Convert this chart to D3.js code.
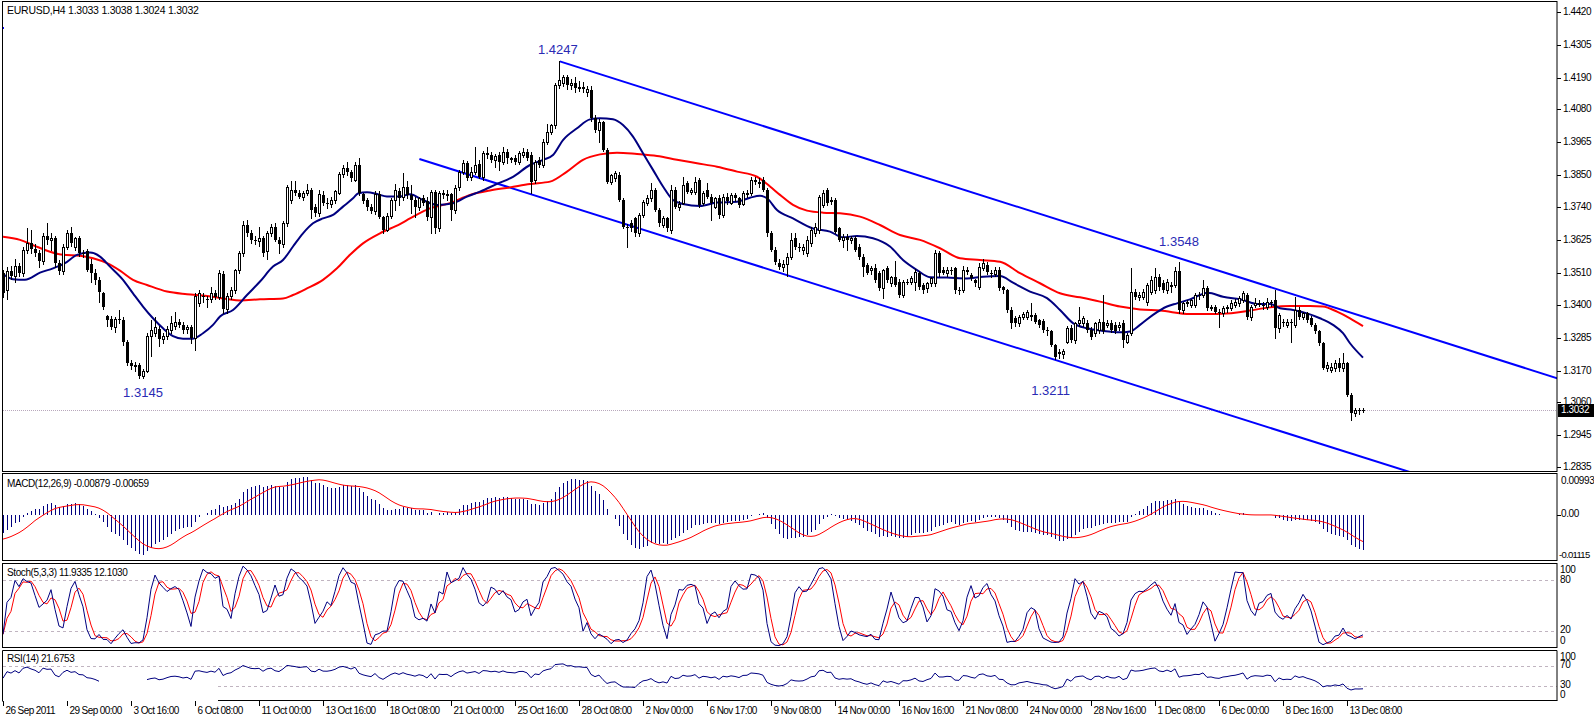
<!DOCTYPE html>
<html><head><meta charset="utf-8">
<script src="https://cdn.jsdelivr.net/npm/d3@7"></script>
<style>
html,body{margin:0;padding:0;background:#fff;}
svg{display:block;}
text{font-family:"Liberation Sans",Arial,sans-serif;}
</style></head><body>
<svg id="c" width="1594" height="718"></svg>
<script>
// ---------------- DATA ----------------
const headerText = "EURUSD,H4  1.3033 1.3038 1.3024 1.3032";
const macdLabel = "MACD(12,26,9) -0.00879 -0.00659";
const stochLabel = "Stoch(5,3,3) 11.9335 12.1030";
const rsiLabel = "RSI(14) 21.6753";
const priceTicks = [1.4420,1.4305,1.4190,1.4080,1.3965,1.3850,1.3740,1.3625,1.3510,1.3400,1.3285,1.3170,1.3060,1.2945,1.2835];
const priceTickLabels = ["1.4420","1.4305","1.4190","1.4080","1.3965","1.3850","1.3740","1.3625","1.3510","1.3400","1.3285","1.3170","1.3060","1.2945","1.2835"];
const currentPrice = 1.3032;
const macdTicks = [0.00993, 0.00, -0.01115];
const macdTickLabels = ["0.00993","0.00","-0.01115"];
const stochLevels = [80, 20];
const stochTickLabels = [[100,"100"],[80,"80"],[20,"20"],[0,"0"]];
const rsiLevels = [70, 30];
const rsiLevelStartBar = [0, 53.75];   // the 30 level is only visible from about x=218
const rsiTickLabels = [[100,"100"],[70,"70"],[30,"30"],[0,"0"]];
const timeLabelBars = [0,16,32,48,64,80,96,112,128,144,160,176,192,208,224,240,256,272,288,304,320,336];
const timeLabels = ["26 Sep 2011","29 Sep 00:00","3 Oct 16:00","6 Oct 08:00","11 Oct 00:00","13 Oct 16:00","18 Oct 08:00","21 Oct 00:00","25 Oct 16:00","28 Oct 08:00","2 Nov 00:00","6 Nov 17:00","9 Nov 08:00","14 Nov 00:00","16 Nov 16:00","21 Nov 08:00","24 Nov 00:00","28 Nov 16:00","1 Dec 08:00","6 Dec 00:00","8 Dec 16:00","13 Dec 08:00"];

// H4 candles, prices x 10000 : [open, high, low, close]
const ohlc = [
[13510,13520,13425,13440],[13450,13530,13420,13515],[13515,13535,13490,13500],[13500,13560,13480,13535],[13535,13545,13500,13510],
[13510,13600,13500,13590],[13590,13665,13580,13615],[13615,13660,13580,13595],[13595,13610,13570,13580],[13580,13590,13530,13550],
[13550,13650,13540,13640],[13640,13685,13610,13625],[13625,13650,13590,13630],[13630,13640,13530,13545],[13545,13555,13505,13515],
[13515,13610,13505,13600],[13600,13660,13595,13650],[13650,13670,13605,13615],[13600,13635,13590,13630],[13630,13640,13570,13580],
[13580,13590,13565,13575],[13585,13595,13515,13520],[13540,13560,13480,13510],[13510,13525,13470,13485],[13485,13495,13410,13445],
[13440,13445,13385,13390],[13360,13365,13325,13345],[13350,13360,13315,13320],[13320,13355,13305,13350],[13350,13380,13335,13345],
[13345,13355,13260,13270],[13270,13275,13190,13195],[13195,13205,13175,13185],[13185,13200,13170,13190],[13190,13195,13145,13150],
[13150,13175,13145,13170],[13170,13300,13165,13290],[13290,13345,13220,13310],[13300,13355,13290,13320],[13315,13325,13255,13280],
[13280,13300,13265,13290],[13290,13325,13280,13315],[13310,13360,13300,13335],[13325,13375,13315,13340],[13340,13350,13320,13330],
[13330,13340,13300,13310],[13315,13330,13300,13320],[13320,13330,13265,13285],[13285,13440,13240,13430],[13405,13450,13395,13440],
[13430,13440,13410,13425],[13420,13430,13390,13415],[13420,13460,13410,13440],[13440,13450,13420,13425],[13425,13520,13420,13510],
[13505,13515,13370,13385],[13385,13440,13370,13430],[13430,13460,13420,13450],[13450,13525,13440,13520],[13520,13585,13510,13578],
[13578,13690,13570,13677],[13677,13695,13640,13650],[13650,13660,13615,13625],[13625,13640,13610,13620],[13620,13670,13605,13630],
[13630,13640,13570,13580],[13585,13655,13560,13648],[13648,13680,13640,13670],[13670,13685,13620,13625],[13625,13635,13580,13610],
[13610,13690,13600,13683],[13683,13815,13675,13810],[13765,13830,13755,13800],[13800,13830,13780,13790],[13790,13800,13770,13775],
[13775,13795,13765,13790],[13790,13820,13780,13800],[13800,13805,13700,13730],[13740,13750,13710,13718],[13718,13800,13710,13785],
[13780,13795,13745,13752],[13752,13770,13735,13750],[13750,13775,13740,13765],[13765,13800,13755,13795],[13790,13860,13785,13855],
[13855,13885,13845,13875],[13875,13895,13850,13860],[13860,13870,13830,13840],[13835,13895,13830,13885],[13885,13910,13780,13790],
[13785,13790,13755,13760],[13765,13770,13730,13740],[13740,13750,13720,13725],[13725,13795,13715,13785],[13785,13795,13700,13705],
[13705,13710,13650,13660],[13660,13720,13655,13710],[13710,13770,13700,13765],[13765,13820,13730,13800],[13795,13805,13745,13770],
[13776,13857,13765,13811],[13811,13830,13770,13780],[13780,13816,13718,13764],[13764,13776,13706,13741],[13741,13775,13730,13770],
[13770,13780,13745,13755],[13760,13776,13695,13706],[13706,13800,13648,13793],[13793,13800,13648,13666],[13666,13795,13655,13787],
[13787,13800,13770,13780],[13780,13800,13765,13785],[13785,13790,13695,13729],[13729,13815,13720,13805],[13811,13870,13800,13863],
[13863,13904,13855,13892],[13892,13900,13835,13842],[13845,13880,13835,13863],[13863,13950,13855,13885],[13890,13905,13840,13845],
[13845,13935,13835,13927],[13927,13950,13910,13921],[13921,13930,13895,13904],[13904,13925,13880,13918],[13921,13930,13870,13898],
[13898,13950,13890,13933],[13933,13940,13892,13909],[13909,13915,13895,13904],[13910,13920,13890,13898],[13898,13935,13890,13927],
[13921,13944,13915,13930],[13930,13940,13905,13909],[13921,13930,13787,13828],[13834,13905,13825,13898],[13904,13915,13880,13886],
[13886,13975,13880,13967],[13967,14030,13960,14002],[14002,14030,13995,14025],[14025,14170,14015,14165],[14165,14247,14155,14182],
[14170,14200,14160,14194],[14194,14200,14150,14165],[14165,14185,14150,14171],[14171,14194,14140,14153],[14153,14178,14145,14159],
[14159,14175,14140,14152],[14140,14160,14125,14150],[14147,14160,14040,14049],[14049,14060,14000,14008],[14008,14045,13967,14037],
[14037,14040,13935,13938],[13938,13945,13825,13828],[13828,13855,13820,13851],[13840,13865,13830,13857],[13851,13860,13760,13764],
[13764,13770,13665,13671],[13671,13680,13602,13666],[13685,13695,13655,13666],[13700,13705,13640,13648],[13648,13720,13640,13712],
[13712,13765,13705,13758],[13753,13780,13745,13770],[13770,13822,13760,13799],[13799,13805,13725,13729],[13729,13735,13675,13683],
[13677,13710,13670,13700],[13700,13705,13655,13666],[13660,13815,13650,13799],[13799,13810,13735,13741],[13741,13760,13730,13750],
[13755,13845,13750,13816],[13822,13830,13790,13793],[13793,13805,13785,13799],[13793,13845,13785,13828],[13834,13840,13740,13747],
[13753,13795,13745,13787],[13800,13825,13770,13776],[13776,13785,13695,13753],[13741,13775,13735,13770],[13770,13780,13700,13712],
[13712,13785,13705,13776],[13776,13790,13750,13760],[13755,13790,13750,13782],[13782,13790,13760,13770],[13770,13775,13740,13747],
[13750,13795,13745,13787],[13787,13800,13775,13790],[13790,13845,13780,13834],[13834,13845,13820,13828],[13828,13840,13810,13820],
[13834,13845,13795,13799],[13799,13805,13640,13648],[13648,13655,13585,13590],[13590,13600,13540,13549],[13544,13560,13525,13532],
[13532,13555,13515,13540],[13540,13580,13500,13567],[13567,13648,13560,13625],[13631,13650,13595,13602],[13602,13615,13585,13596],
[13590,13610,13575,13600],[13578,13640,13570,13625],[13613,13670,13605,13660],[13648,13685,13640,13671],[13660,13780,13650,13776],
[13747,13799,13740,13787],[13800,13805,13745,13753],[13764,13775,13750,13758],[13764,13770,13650,13654],[13665,13670,13620,13625],
[13625,13645,13600,13636],[13636,13645,13590,13625],[13625,13640,13615,13631],[13631,13640,13585,13590],[13602,13610,13560,13567],
[13567,13575,13500,13532],[13538,13545,13505,13509],[13520,13535,13505,13526],[13526,13540,13480,13485],[13509,13515,13450,13456],
[13456,13525,13422,13520],[13526,13535,13480,13485],[13474,13500,13465,13497],[13497,13550,13465,13468],[13480,13490,13425,13433],
[13433,13485,13425,13480],[13480,13490,13470,13478],[13478,13500,13470,13491],[13480,13525,13450,13514],[13509,13515,13455,13462],
[13468,13475,13440,13451],[13456,13480,13445,13474],[13474,13495,13465,13491],[13474,13590,13465,13578],[13578,13585,13500,13509],
[13520,13530,13505,13509],[13509,13530,13500,13520],[13520,13530,13505,13515],[13526,13530,13440,13451],[13451,13460,13435,13447],
[13451,13535,13445,13520],[13520,13530,13505,13514],[13503,13510,13485,13491],[13485,13490,13465,13476],[13462,13545,13455,13532],
[13526,13560,13520,13544],[13538,13548,13505,13514],[13509,13520,13495,13505],[13505,13530,13500,13520],[13520,13530,13450,13456],
[13460,13465,13440,13451],[13451,13455,13375,13381],[13381,13390,13317,13335],[13352,13360,13325,13335],[13335,13365,13325,13358],
[13358,13375,13350,13366],[13358,13380,13350,13375],[13362,13404,13345,13355],[13364,13370,13335,13340],[13346,13350,13320,13329],
[13344,13350,13305,13311],[13311,13320,13295,13306],[13306,13310,13255,13259],[13259,13262,13211,13218],[13236,13245,13215,13226],
[13226,13245,13215,13238],[13270,13325,13265,13317],[13317,13330,13270,13277],[13277,13340,13265,13335],[13335,13393,13325,13346],
[13335,13360,13325,13352],[13335,13345,13305,13311],[13311,13320,13280,13288],[13300,13340,13290,13335],[13311,13350,13300,13340],
[13340,13433,13300,13306],[13330,13345,13320,13335],[13335,13345,13305,13311],[13329,13340,13300,13306],[13320,13340,13310,13329],
[13335,13345,13253,13277],[13271,13300,13265,13294],[13300,13526,13295,13445],[13445,13455,13420,13427],[13427,13445,13415,13433],
[13427,13455,13420,13445],[13410,13475,13400,13468],[13445,13500,13435,13486],[13451,13526,13440,13497],[13497,13505,13450,13460],
[13476,13485,13445,13451],[13451,13490,13440,13480],[13468,13480,13445,13460],[13468,13532,13460,13515],[13515,13548,13370,13381],
[13381,13410,13370,13404],[13404,13415,13395,13408],[13398,13420,13390,13416],[13398,13440,13390,13433],[13433,13445,13420,13429],
[13433,13486,13425,13457],[13457,13465,13380,13387],[13387,13400,13380,13393],[13393,13400,13370,13375],[13375,13385,13323,13369],
[13369,13395,13360,13387],[13387,13400,13375,13393],[13387,13415,13380,13404],[13398,13420,13390,13410],[13404,13430,13395,13422],
[13416,13448,13410,13439],[13433,13440,13350,13358],[13358,13400,13345,13393],[13398,13422,13390,13404],[13404,13415,13395,13400],
[13398,13410,13385,13395],[13393,13422,13385,13410],[13410,13415,13395,13404],[13416,13451,13282,13317],[13317,13370,13305,13364],
[13340,13350,13325,13335],[13329,13350,13320,13340],[13340,13350,13271,13335],[13329,13427,13320,13381],[13381,13390,13350,13358],
[13358,13375,13350,13369],[13369,13375,13340,13346],[13352,13360,13325,13329],[13329,13335,13300,13306],[13306,13310,13260,13265],
[13265,13270,13175,13178],[13180,13200,13170,13190],[13172,13195,13165,13184],[13178,13205,13170,13195],[13195,13213,13170,13178],
[13178,13230,13170,13195],[13195,13200,13080,13085],[13085,13090,12998,13021],[13021,13040,13010,13033],[13033,13040,13020,13030],
[13033,13038,13024,13032]
];

// fast moving average (navy), read points [bar, price]
const fastMA = [[0,1.3506],[2.5,1.3488],[5.5,1.3486],[9.25,1.3511],[12.5,1.3526],[15.5,1.3544],[18.5,1.3573],[21.75,1.3581],[24.25,1.3567],[26.75,1.3532],[30,1.3486],[32.5,1.3439],[35,1.3393],[37.5,1.3352],[40,1.3317],[42.5,1.3290],[45,1.3281],[47.5,1.3281],[50,1.3300],[52.5,1.3329],[54.25,1.3358],[57.5,1.3381],[61,1.3433],[64.25,1.3480],[67.5,1.3532],[70,1.3555],[72.5,1.3602],[75,1.3648],[77.5,1.3683],[80,1.3700],[82.5,1.3712],[85,1.3741],[87.5,1.3770],[88.75,1.3787],[91,1.3791],[93.5,1.3785],[96,1.3776],[99.25,1.3776],[101.75,1.3784],[105,1.3764],[108.5,1.3747],[112.5,1.3753],[116,1.3776],[119.25,1.3793],[123.5,1.3820],[127.5,1.3845],[131.75,1.3886],[135,1.3904],[137.5,1.3921],[140,1.3973],[143.5,1.4014],[146.75,1.4045],[149.25,1.4049],[152.5,1.4045],[155,1.4025],[157.5,1.3985],[160,1.3927],[162.5,1.3869],[165,1.3811],[167.5,1.3764],[170,1.3750],[174.25,1.3743],[178.5,1.3755],[183.5,1.3758],[186.75,1.3772],[189.25,1.3779],[191,1.3770],[193.5,1.3729],[197.5,1.3700],[202.5,1.3665],[206.75,1.3654],[210,1.3634],[213.5,1.3639],[217.5,1.3631],[221.75,1.3602],[225,1.3555],[228.5,1.3520],[231.75,1.3495],[236,1.3494],[241,1.3491],[245,1.3497],[249.25,1.3499],[252.5,1.3476],[256.75,1.3445],[261,1.3422],[264.25,1.3381],[267.5,1.3335],[271,1.3317],[275,1.3308],[279.25,1.3303],[281.75,1.3306],[284.25,1.3329],[287.5,1.3364],[291,1.3393],[293.5,1.3404],[296.75,1.3418],[301.25,1.3441],[305,1.3427],[310,1.3416],[313.5,1.3402],[316.75,1.3402],[319.25,1.3387],[322.5,1.3381],[326,1.3369],[329.25,1.3352],[332.5,1.3329],[335,1.3300],[336.75,1.3265],[340,1.3215]];
// slow moving average (red)
const slowMA = [[0,1.3636],[4.25,1.3625],[7.5,1.3607],[11.75,1.3584],[15,1.3573],[19.25,1.3570],[22.5,1.3561],[26,1.3544],[29.25,1.3518],[32.5,1.3486],[36,1.3468],[41,1.3445],[46,1.3436],[51,1.3430],[56,1.3419],[59.25,1.3414],[64.25,1.3418],[70,1.3421],[72.5,1.3433],[76,1.3456],[80,1.3486],[83.5,1.3526],[86.75,1.3573],[90,1.3613],[94.25,1.3648],[99.25,1.3680],[101.75,1.3700],[106.75,1.3735],[111.75,1.3753],[116.75,1.3782],[121.75,1.3797],[126.75,1.3808],[131.75,1.3820],[136.75,1.3828],[141,1.3863],[145,1.3904],[149.25,1.3923],[153.5,1.3929],[158.5,1.3924],[163.5,1.3917],[168.5,1.3904],[173.5,1.3892],[178.5,1.3880],[183.5,1.3863],[188.5,1.3845],[191.75,1.3811],[194.25,1.3782],[197.5,1.3747],[201,1.3727],[205,1.3720],[209.25,1.3718],[214.25,1.3706],[219.25,1.3677],[224.25,1.3642],[229.25,1.3625],[234.25,1.3596],[239.25,1.3561],[244.25,1.3555],[249.25,1.3549],[254.25,1.3509],[259.25,1.3474],[264.25,1.3439],[269.25,1.3425],[274.25,1.3410],[279.25,1.3393],[284.25,1.3383],[289.25,1.3379],[296.75,1.3367],[303.5,1.3367],[308.5,1.3372],[311.75,1.3379],[316.75,1.3390],[321.75,1.3395],[326.75,1.3395],[330,1.3393],[333.5,1.3375],[336.75,1.3352],[340,1.3325]];

// trend channel anchors [bar, price]
const channelUpper = [[139.2,1.4247],[340,1.3358]];
const channelLower = [[104.1,1.3907],[340,1.2868]];
// swing annotations: [bar, price of text centre, text]
const swingLabels = [[138.7,1.4283,"1.4247"],[35,1.3091,"1.3145"],[261.9,1.3096,"1.3211"],[294,1.3617,"1.3548"]];

// indicator start values read at the left edge
const macdStart = [-0.0050, -0.0062];   // main, signal
const rsiStart = 45;
const rsiGap = [25, 35];                // bars with no RSI drawn

// ---------------- LAYOUT ----------------
const svg = d3.select("#c");
const X0 = 3, XR = 1557;
const N = ohlc.length;
const x = d3.scaleLinear().domain([0, 340]).range([3, 1363]);
const yMain = d3.scaleLinear().domain([1.2835, 1.4420]).range([466.7, 11.7]);
const yMacd = d3.scaleLinear().domain([-0.01115, 0.00993]).range([560, 474]);
const yStoch = d3.scaleLinear().domain([0, 100]).range([647.6, 563.1]);
const yRsi = d3.scaleLinear().domain([0, 100]).range([700.7, 650.7]);
const panels = [[1.5,471.5],[473.5,560.5],[563.5,647.5],[650.5,700.5]];

svg.append("rect").attr("width",1594).attr("height",718).attr("fill","#fff");
const defs = svg.append("defs");
panels.forEach((p,i)=>{
  defs.append("clipPath").attr("id","clip"+i).append("rect")
    .attr("x",X0).attr("y",p[0]+0.5).attr("width",XR-X0).attr("height",p[1]-p[0]-1);
});

function label(g, tx, ty, s, opts={}) {
  return g.append("text").attr("x",tx).attr("y",ty).text(s)
    .attr("font-size", opts.size||10).attr("fill", opts.fill||"#000")
    .attr("letter-spacing", opts.ls!==undefined?opts.ls:-0.4)
    .attr("text-anchor", opts.anchor||"start")
    .attr("dominant-baseline", opts.base||"middle");
}

// ---------------- MAIN PANEL ----------------
const gMain = svg.append("g").attr("clip-path","url(#clip0)");

gMain.append("line").attr("x1",X0).attr("x2",XR)
  .attr("y1",Math.round(yMain(currentPrice))+0.5).attr("y2",Math.round(yMain(currentPrice))+0.5)
  .attr("stroke","#b8a8bc").attr("stroke-dasharray","1,1");

function rayPoints(a){
  const slope = (a[1][1]-a[0][1])/(a[1][0]-a[0][0]);
  const endBar = x.invert(XR+5);
  return [a[0],[endBar, a[0][1]+slope*(endBar-a[0][0])]];
}
const lineMain = d3.line().x(d=>x(d[0])).y(d=>yMain(d[1]));
[channelUpper, channelLower].forEach(a=>{
  gMain.append("path").attr("d", lineMain(rayPoints(a))).attr("fill","none")
    .attr("stroke","#0000ff").attr("stroke-width",2);
});

const maLine = d3.line().x(d=>x(d[0])).y(d=>yMain(d[1])).curve(d3.curveMonotoneX);
gMain.append("path").attr("d", maLine(slowMA)).attr("fill","none").attr("stroke","#ff0000").attr("stroke-width",2);
gMain.append("path").attr("d", maLine(fastMA)).attr("fill","none").attr("stroke","#000080").attr("stroke-width",2);

const gc = gMain.append("g");
ohlc.forEach((d,i)=>{
  const cx = Math.round(x(i));
  const o=d[0]/1e4, h=d[1]/1e4, l=d[2]/1e4, c=d[3]/1e4;
  const yh=Math.round(yMain(h)), yl=Math.round(yMain(l));
  const yo=Math.round(yMain(o)), yc=Math.round(yMain(c));
  gc.append("line").attr("x1",cx+0.5).attr("x2",cx+0.5).attr("y1",yh).attr("y2",yl+1)
    .attr("stroke","#000").attr("stroke-width",1);
  const top=Math.min(yo,yc), bot=Math.max(yo,yc);
  if (c > o) {
    gc.append("rect").attr("x",cx-0.5).attr("y",top+0.5).attr("width",2).attr("height",Math.max(bot-top,1))
      .attr("fill","#fff").attr("stroke","#000").attr("stroke-width",1);
  } else {
    gc.append("rect").attr("x",cx-1).attr("y",top).attr("width",3).attr("height",Math.max(bot-top,1))
      .attr("fill","#000");
  }
});

swingLabels.forEach(s=>{
  label(svg, x(s[0]), yMain(s[1]), s[2], {size:13, fill:"#2a2ab4", anchor:"middle", ls:0});
});

label(svg, 7, 11.5, headerText, {size:10.5, ls:-0.25});
svg.append("rect").attr("x",2).attr("y",27).attr("width",2).attr("height",2).attr("fill","#0000ff");

const gAx = svg.append("g");
priceTicks.forEach((p,i)=>{
  const yy = Math.round(yMain(p))+0.5;
  gAx.append("line").attr("x1",XR).attr("x2",XR+4).attr("y1",yy).attr("y2",yy).attr("stroke","#000");
  label(gAx, 1563, yy, priceTickLabels[i], {size:10});
});
{
  const yy = Math.round(yMain(currentPrice));
  gAx.append("rect").attr("x",1558).attr("y",yy-6).attr("width",36).attr("height",13).attr("fill","#000");
  label(gAx, 1561, yy+0.5, currentPrice.toFixed(4), {size:10, fill:"#fff"});
}

// ---------------- INDICATORS (computed from the candles) ----------------
const C = ohlc.map(d=>d[3]/1e4), Hh = ohlc.map(d=>d[1]/1e4), Ll = ohlc.map(d=>d[2]/1e4);
let e12 = C[0], e26 = C[0]-macdStart[0];
const k12=2/13, k26=2/27;
const macdMain = C.map(v=>{ e12 += k12*(v-e12); e26 += k26*(v-e26); return e12-e26; });
const sigWin = d3.range(8).map(()=>macdStart[1]);
const macdSig = macdMain.map(v=>{ sigWin.push(v); if (sigWin.length>9) sigWin.shift(); return d3.mean(sigWin); });
const num=[], den=[];
C.forEach((v,i)=>{
  const lo=d3.min(Ll.slice(Math.max(0,i-4),i+1)), hi=d3.max(Hh.slice(Math.max(0,i-4),i+1));
  num.push(v-lo); den.push(hi-lo);
});
const stK = C.map((v,i)=>{ const a=Math.max(0,i-2); const s=d3.sum(den.slice(a,i+1)); return s>0?100*d3.sum(num.slice(a,i+1))/s:50; });
const stD = stK.map((v,i)=>d3.mean(stK.slice(Math.max(0,i-2),i+1)));
let ag = 0.0010*rsiStart/50, al = 0.0010*(100-rsiStart)/50;
const rsi = C.map((v,i)=>{
  const ch = i>0 ? v-C[i-1] : 0;
  ag = (ag*13 + Math.max(ch,0))/14; al = (al*13 + Math.max(-ch,0))/14;
  return al===0?100:100-100/(1+ag/al);
});

// ---------------- MACD PANEL ----------------
const gMacd = svg.append("g").attr("clip-path","url(#clip1)");
const y0m = Math.round(yMacd(0));
macdMain.forEach((v,i)=>{
  const cx=Math.round(x(i))+0.5;
  gMacd.append("line").attr("x1",cx).attr("x2",cx).attr("y1",y0m).attr("y2",Math.round(yMacd(v)))
    .attr("stroke","#000080").attr("stroke-width",1);
});
gMacd.append("path").attr("d", d3.line().x((d,i)=>x(i)).y(d=>yMacd(d))(macdSig))
  .attr("fill","none").attr("stroke","#ff0000").attr("stroke-width",1);
label(svg, 7, 484, macdLabel, {size:10});
label(svg, 1561, 481, macdTickLabels[0], {size:10});
label(svg, 1561, 514.5, macdTickLabels[1], {size:10});
label(svg, 1559, 555, macdTickLabels[2], {size:9.5, ls:-0.7});
svg.append("line").attr("x1",XR).attr("x2",XR+4).attr("y1",y0m+0.5).attr("y2",y0m+0.5).attr("stroke","#000");

// ---------------- STOCH PANEL ----------------
const gSt = svg.append("g").attr("clip-path","url(#clip2)");
stochLevels.forEach(v=>{
  const yy=Math.round(yStoch(v))+0.5;
  gSt.append("line").attr("x1",X0).attr("x2",XR).attr("y1",yy).attr("y2",yy)
    .attr("stroke","#c0b4c0").attr("stroke-dasharray","3,3");
});
gSt.append("path").attr("d", d3.line().x((d,i)=>x(i)).y(d=>yStoch(d))(stD)).attr("fill","none").attr("stroke","#ff0000");
gSt.append("path").attr("d", d3.line().x((d,i)=>x(i)).y(d=>yStoch(d))(stK)).attr("fill","none").attr("stroke","#000080");
label(svg, 7, 573, stochLabel, {size:10});
const stLabY = {100:570, 80:580.5, 20:630.5, 0:641.5};
stochTickLabels.forEach(t=>label(svg, 1560, stLabY[t[0]], t[1], {size:10}));

// ---------------- RSI PANEL ----------------
const gR = svg.append("g").attr("clip-path","url(#clip3)");
rsiLevels.forEach((v,k)=>{
  const yy=Math.round(yRsi(v))+0.5;
  gR.append("line").attr("x1",Math.round(x(rsiLevelStartBar[k]))).attr("x2",XR).attr("y1",yy).attr("y2",yy)
    .attr("stroke","#c0b4c0").attr("stroke-dasharray","3,3");
});
gR.append("path").attr("d", d3.line().defined((d,i)=>i<rsiGap[0]||i>rsiGap[1]).x((d,i)=>x(i)).y(d=>yRsi(d))(rsi))
  .attr("fill","none").attr("stroke","#000080");
label(svg, 7, 659, rsiLabel, {size:10});
const rsiLabY = {100:657, 70:665.5, 30:685.5, 0:695};
rsiTickLabels.forEach(t=>label(svg, 1560, rsiLabY[t[0]], t[1], {size:10}));

// ---------------- FRAMES ----------------
panels.forEach((p,k)=>{
  if (k < 3) {
    svg.append("rect").attr("x",2.5).attr("y",p[0]).attr("width",XR-2.5).attr("height",p[1]-p[0])
      .attr("fill","none").attr("stroke","#000").attr("stroke-width",1);
  } else {
    const bx = Math.round(x(rsiLevelStartBar[1]));
    svg.append("path").attr("d",`M${bx},${p[1]}H${XR+0.5}M2.5,${p[1]+1}V${p[0]}H${XR}V${p[1]}`)
      .attr("fill","none").attr("stroke","#000").attr("stroke-width",1);
  }
});

// ---------------- TIME AXIS ----------------
timeLabelBars.forEach((b,i)=>{
  const tx = Math.round(x(b))+0.5;
  svg.append("line").attr("x1",tx).attr("x2",tx).attr("y1",701).attr("y2",706).attr("stroke","#000");
  label(svg, tx+2, 711, timeLabels[i], {size:10, ls:-0.6});
});
</script>
</body></html>
